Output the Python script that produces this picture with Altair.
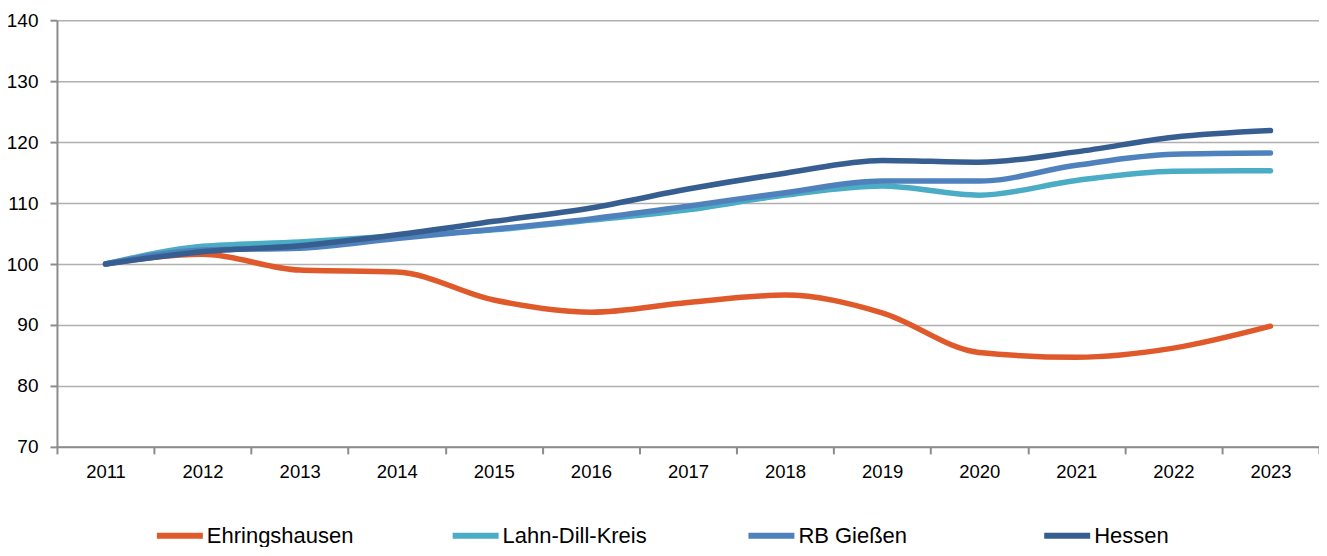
import altair as alt
import pandas as pd

years = [str(y) for y in range(2011, 2024)]
series_names = ["Ehringshausen", "Lahn-Dill-Kreis", "RB Gießen", "Hessen"]
ehringshausen = [100, 101.6, 99.0, 98.7, 94.1, 92.1, 93.7, 94.9, 92.0, 85.5, 84.7, 86.2, 89.8]
lahn_dill = [100, 102.9, 103.6, 104.6, 105.6, 107.2, 108.9, 111.3, 112.8, 111.3, 113.7, 115.2, 115.3]
rb_giessen = [100, 102.3, 102.6, 104.2, 105.7, 107.4, 109.5, 111.7, 113.6, 113.6, 116.2, 118.0, 118.2]
hessen = [100, 102.0, 103.0, 104.8, 107.0, 109.2, 112.3, 114.9, 117.0, 116.7, 118.4, 120.8, 121.9]
colors = ["#E0592A", "#4BACC6", "#4F81BD", "#375E91"]

rows = []
for name, vals in zip(series_names, [ehringshausen, lahn_dill, rb_giessen, hessen]):
    for y, v in zip(years, vals):
        rows.append({"Jahr": y, "Wert": v, "Reihe": name, "ord": series_names.index(name)})
df = pd.DataFrame(rows)

FONT = "Liberation Sans"

chart = alt.Chart(df).mark_line(
    strokeWidth=5.5, strokeCap="round", interpolate="monotone"
).encode(
    x=alt.X("Jahr:O", title=None, bandPosition=0.5,
            scale=alt.Scale(type="band", paddingInner=0, paddingOuter=0),
            axis=alt.Axis(labelAngle=0, tickBand="extent", grid=False,
                          domainColor="#8C8C8C", domainWidth=2,
                          tickColor="#8C8C8C", tickWidth=2, tickSize=7,
                          labelFont=FONT, labelFontSize=18.5, labelColor="#000000",
                          labelPadding=9)),
    y=alt.Y("Wert:Q", title=None,
            scale=alt.Scale(domain=[70, 140], nice=False, zero=False),
            axis=alt.Axis(values=[70, 80, 90, 100, 110, 120, 130, 140],
                          grid=True, gridColor="#B0B0B0", gridWidth=1.5,
                          domainColor="#8C8C8C", domainWidth=2,
                          tickColor="#8C8C8C", tickWidth=2, tickSize=7,
                          labelFont=FONT, labelFontSize=19, labelColor="#000000",
                          labelPadding=12)),
    color=alt.Color("Reihe:N", title=None,
                    scale=alt.Scale(domain=series_names, range=colors),
                    legend=alt.Legend(orient="none", legendX=97, legendY=490,
                                      direction="horizontal", columns=4,
                                      gridAlign="all", columnPadding=87,
                                      symbolType="stroke", symbolSize=2116,
                                      symbolStrokeWidth=6, symbolOffset=0,
                                      labelOffset=1,
                                      labelFont=FONT, labelFontSize=22,
                                      labelColor="#000000", labelLimit=400)),
    order=alt.Order("ord:Q"),
    detail="Reihe:N",
).properties(
    width=1263, height=427,
    autosize=alt.AutoSizeParams(type="none"),
    padding={"left": 49, "top": 12, "right": 0, "bottom": 100},
).configure_view(stroke=None)

chart.save("out.html", embed_options={"renderer": "svg", "actions": False})
